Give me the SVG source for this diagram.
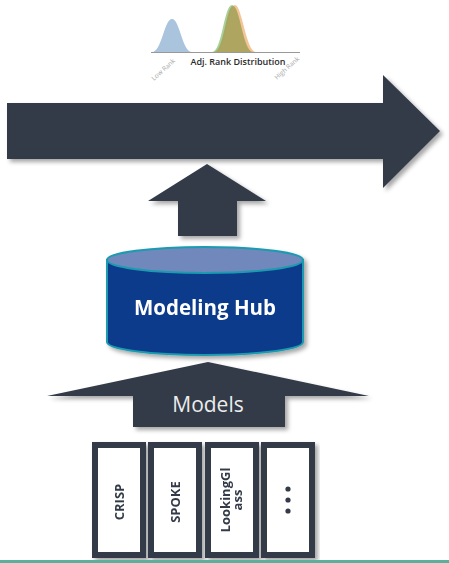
<svg xmlns="http://www.w3.org/2000/svg" width="449" height="563" viewBox="0 0 449 563">
<defs>
<style>
.dark{fill:#333a47;}
.box{fill:#ffffff;stroke:#333a47;stroke-width:6;}
.lbl{font-family:"Open Sans","Noto Sans",sans-serif;font-weight:bold;font-size:13px;fill:#333a47;text-anchor:middle;}
.axis{font-family:"Open Sans","Noto Sans",sans-serif;font-size:6.5px;fill:#a8a8a8;}
</style>
<filter id="sh" x="-10%" y="-10%" width="125%" height="130%">
<feDropShadow dx="3" dy="3" stdDeviation="2" flood-color="#000" flood-opacity="0.35"/>
</filter>
</defs>
<rect width="449" height="563" fill="#ffffff"/>

<g id="chart">
<path d="M152,52 C162,52 164,19 172,19 C180,19 182,52 192,52 Z" fill="#a9c4dc"/>
<path d="M212,52 C222,52 224,5 232,5 C240,5 244,52 252,52 Z" fill="#a8d09a"/>
<path d="M216,52 C226,52 228,5 235,5 C242,5 246,52 256,52 Z" fill="#f2c496"/>
<path d="M214,52 C224,52 226,6 233,6 C240,6 243,52 253,52 Z" fill="#a5a25a" opacity="0.9"/>
<line x1="151" y1="52.5" x2="300" y2="52.5" stroke="#999" stroke-width="1"/>
<text x="238" y="65" font-family="Open Sans, Noto Sans, sans-serif" font-weight="600" font-size="9" fill="#2a2a2a" text-anchor="middle">Adj. Rank Distribution</text>
<text class="axis" transform="translate(154,81) rotate(-42)">Low Rank</text>
<text class="axis" transform="translate(277,80) rotate(-42)">High Rank</text>
</g>

<g id="connectors">
<path class="dark" filter="url(#sh)" d="M7,103 L383,103 L383,75 L440,131 L383,188 L383,159 L7,159 Z"/>
<path class="dark" filter="url(#sh)" d="M207,164 L266,201 L237,201 L237,236 L178,236 L178,201 L148,201 Z"/>
<g id="models-arrow">
<path class="dark" filter="url(#sh)" d="M208,362 L369,396 L285,396 L285,427 L133,427 L133,396 L47,396 Z"/>
<text x="208" y="412" font-family="Open Sans, Noto Sans, sans-serif" font-size="21" fill="#ececec" text-anchor="middle">Models</text>
</g>
</g>

<g id="hub" filter="url(#sh)">
<path d="M107,260 L107,342 A98,13 0 0 0 303,342 L303,260 Z" fill="#0c3a8b" stroke="#1a9bb0" stroke-width="2"/>
<ellipse cx="205" cy="260" rx="98" ry="13" fill="#6f88bb" stroke="#1a9bb0" stroke-width="2"/>
<text x="205" y="315" font-family="Open Sans, Noto Sans, sans-serif" font-weight="bold" font-size="20.5" fill="#ffffff" text-anchor="middle">Modeling Hub</text>
</g>

<g id="crisp" filter="url(#sh)">
<rect class="box" x="95" y="445" width="48" height="110"/>
<text class="lbl" transform="translate(124,502) rotate(-90)">CRISP</text>
</g>
<g id="spoke" filter="url(#sh)">
<rect class="box" x="151" y="445" width="48" height="110"/>
<text class="lbl" transform="translate(180,502) rotate(-90)">SPOKE</text>
</g>
<g id="lookingglass" filter="url(#sh)">
<rect class="box" x="208" y="445" width="48" height="110"/>
<text class="lbl" transform="translate(229.5,500) rotate(-90)">LookingGl</text>
<text class="lbl" transform="translate(242,500) rotate(-90)">ass</text>
</g>
<g id="more" filter="url(#sh)">
<rect class="box" x="264" y="445" width="48" height="110"/>
<circle cx="288" cy="489" r="2.6" fill="#333a47"/>
<circle cx="288" cy="500" r="2.6" fill="#333a47"/>
<circle cx="288" cy="511" r="2.6" fill="#333a47"/>
</g>

<rect x="0" y="560" width="449" height="3" fill="#5bb09c"/>
</svg>
